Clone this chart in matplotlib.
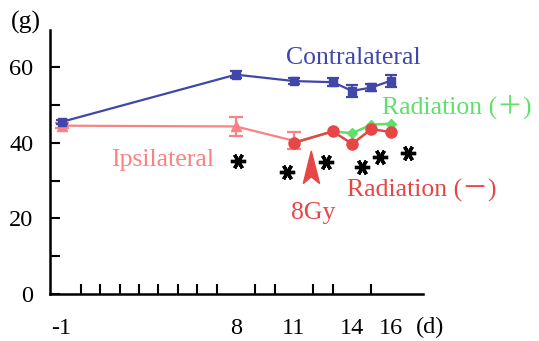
import matplotlib
matplotlib.use("Agg")
import matplotlib.pyplot as plt
from matplotlib.patches import Polygon

# Data
contra_days = [-1, 8, 11, 13, 14, 15, 16]
contra_vals = [45.5, 58.0, 56.3, 56.0, 53.7, 54.6, 56.4]
contra_err = [0.6, 1.0, 0.8, 1.0, 1.6, 1.0, 1.6]

ipsi_days = [-1, 8, 11]
ipsi_vals = [44.5, 44.3, 40.5]
ipsi_err = [0.6, 2.5, 2.2]

radp_days = [11, 13, 14, 15, 16]
radp_vals = [40.0, 43.0, 42.5, 44.8, 45.0]

radm_days = [11, 13, 14, 15, 16]
radm_vals = [40.0, 43.0, 39.7, 43.6, 42.8]

star_x = [8.1, 10.65, 12.65, 14.5, 15.45, 16.9]
star_y = [35.2, 32.2, 35.0, 33.6, 36.2, 37.2]

xtick_pos = [-1, 8, 11, 14, 16]
xtick_lab = ["-1", "8", "11", "14", "16"]
ytick_pos = [0, 20, 40, 60]

BLUE = "#4047A8"
PINK = "#F98383"
RED = "#E64646"
GREEN = "#5EE06A"

plt.rcParams['font.family'] = ['Liberation Serif', 'Noto Sans CJK JP', 'DejaVu Sans']

fig = plt.figure(figsize=(5.39, 3.41), dpi=100)
ax = fig.add_axes([50/539, 1-294/341, (423-50)/539, (294-30)/341])

ax.errorbar(contra_days, contra_vals, yerr=contra_err, color=BLUE, lw=1.6,
            marker="s", ms=6, capsize=4, elinewidth=1.6, capthick=1.6, zorder=4)
ax.errorbar(ipsi_days, ipsi_vals, yerr=ipsi_err, color=PINK, lw=1.6,
            marker="^", ms=7, capsize=5, elinewidth=1.6, capthick=1.6, zorder=3)
ax.plot(radp_days, radp_vals, color=GREEN, lw=1.8, marker="D", ms=5, zorder=3)
ax.plot(radm_days, radm_vals, color=RED, lw=1.8, marker="o", ms=8, zorder=3.5)

ax.plot(star_x, star_y, linestyle="none", marker=(6, 2, 90), ms=11, mew=2.4,
        color="black", zorder=5)

arrow = Polygon([[11.89, 37.8], [11.48, 29.2], [11.89, 31.0], [12.32, 29.2]],
                closed=True, color=RED, zorder=5)
ax.add_patch(arrow)

ax.set_xlim(-1.6, 17.66)
ax.set_ylim(0, 69.8)

for s in ["top", "right"]:
    ax.spines[s].set_visible(False)
for s in ["left", "bottom"]:
    ax.spines[s].set_linewidth(1.8)

ax.set_xticks(xtick_pos)
ax.set_xticklabels(xtick_lab)
ax.set_xticks(list(range(0, 17)), minor=True)
ax.set_yticks(ytick_pos)
ax.set_yticks([10, 30, 50], minor=True)

ax.tick_params(axis="x", which="major", length=0, pad=17, labelsize=17.5)
ax.tick_params(axis="x", which="minor", direction="in", length=7, width=1.5)
ax.tick_params(axis="y", which="both", direction="in", length=7, width=1.5)
ax.tick_params(axis="y", which="major", pad=12, labelsize=17.5)

ax.text(14.05, 62.3, "Contralateral", color=BLUE, fontsize=18.5, ha="center", va="center")
ax.text(4.2, 35.3, "Ipsilateral", color=PINK, fontsize=18.5, ha="center", va="center")
ax.text(15.55, 49.5, "Radiation (＋)", color=GREEN, fontsize=18.5, ha="left", va="center")
ax.text(13.75, 27.5, "Radiation (－)", color=RED, fontsize=18.5, ha="left", va="center")
ax.text(12.0, 21.3, "8Gy", color=RED, fontsize=18.5, ha="center", va="center")

fig.text(26/539, 1-22/341, "(g)", fontsize=18.5, ha="center", va="center")
fig.text(430/539, 1-327/341, "(d)", fontsize=17.5, ha="center", va="center")

fig.savefig("out.png", dpi=100)
